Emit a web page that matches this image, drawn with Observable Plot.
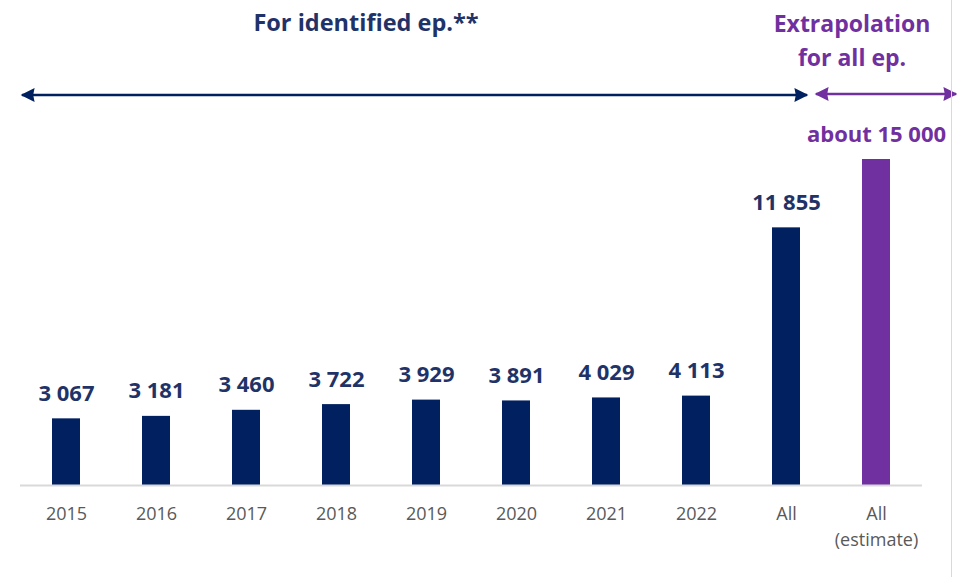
<!DOCTYPE html>
<html>
<head>
<meta charset="utf-8">
<script src="https://cdn.jsdelivr.net/npm/d3@7"></script>
<script src="https://cdn.jsdelivr.net/npm/@observablehq/plot@0.6"></script>
<style>
  html, body { margin: 0; padding: 0; background: #fff; }
  #chart { position: relative; width: 957px; height: 577px; overflow: hidden; }
  #chart svg { display: block; }
</style>
</head>
<body>
<div id="chart"></div>
<script>
// ---- data ----
const categories = ["2015", "2016", "2017", "2018", "2019", "2020", "2021", "2022", "All", "All (estimate)"];
const values = [3067, 3181, 3460, 3722, 3929, 3891, 4029, 4113, 11855, 15000];
const isEstimate = [false, false, false, false, false, false, false, false, false, true];
const labelPrefix = ["", "", "", "", "", "", "", "", "", "about "];
const tickLabels = ["2015", "2016", "2017", "2018", "2019", "2020", "2021", "2022", "All", "All\n(estimate)"];
const headerIdentified = "For identified ep.**";
const headerExtrapolation = ["Extrapolation", "for all ep."];

const NAVY = "#002060";
const NAVY_TEXT = "#1F3368";
const PURPLE = "#7030A0";

const rows = categories.map((c, i) => ({
  category: c,
  value: values[i],
  estimate: isEstimate[i],
  label: labelPrefix[i] + d3.format(",")(values[i]).replace(/,/g, "\u00A0")
}));

const fmtTick = d => tickLabels[categories.indexOf(d)];

const plot = Plot.plot({
  width: 957,
  height: 577,
  marginTop: 159,
  marginBottom: 92,
  marginLeft: 20,
  marginRight: 35,
  style: { fontFamily: "'Open Sans', sans-serif", background: "transparent", overflow: "visible" },
  x: { type: "band", domain: categories, paddingInner: 0.69, paddingOuter: 0.345, label: null },
  y: { domain: [0, 15000], axis: null },
  marks: [
    Plot.barY(rows, { x: "category", y: "value", fill: d => d.estimate ? PURPLE : NAVY }),
    Plot.ruleY([0], { stroke: "#D9D9D9", strokeWidth: 2 }),
    Plot.text(rows, {
      x: "category", y: "value", text: "label", dy: -25,
      fill: d => d.estimate ? PURPLE : NAVY_TEXT,
      fontSize: 22, fontWeight: "bold"
    }),
    Plot.axisX({
      tickSize: 0, tickPadding: 16, fontSize: 18, color: "#595959",
      tickFormat: fmtTick, lineHeight: 1.45, label: null
    })
  ]
});

document.getElementById("chart").appendChild(plot);

// ---- annotation layer (headers and range arrows), placed from the x scale ----
const xs = plot.scale("x");
const bw = xs.bandwidth, step = xs.step;
const cx = c => xs.apply(c) + bw / 2;
const svg = d3.select(plot);
const W = 957;

const defs = svg.append("defs");
function marker(id, color) {
  defs.append("marker").attr("id", id)
    .attr("viewBox", "0 0 10 10").attr("refX", 9).attr("refY", 5)
    .attr("markerUnits", "userSpaceOnUse")
    .attr("markerWidth", 15).attr("markerHeight", 14)
    .attr("orient", "auto-start-reverse")
    .append("path").attr("d", "M0,0 L10,5 L0,10 L1,5 Z").attr("fill", color);
}
marker("arrNavy", NAVY);
marker("arrPurple", PURPLE);

const arrowY = 95;
const xRange = Array.isArray(xs.range) ? xs.range : [20, 922];
const navyLeft = xRange[0] + 2;
const navyRight = cx("All") + 21;
const purpleLeft = cx("All") + 30;
const purpleRight = W - 1;

svg.append("line")
  .attr("x1", navyLeft).attr("x2", navyRight).attr("y1", arrowY).attr("y2", arrowY)
  .attr("stroke", NAVY).attr("stroke-width", 2.5)
  .attr("marker-start", "url(#arrNavy)").attr("marker-end", "url(#arrNavy)");
svg.append("line")
  .attr("x1", purpleLeft).attr("x2", purpleRight).attr("y1", arrowY - 1).attr("y2", arrowY - 1)
  .attr("stroke", PURPLE).attr("stroke-width", 2.5)
  .attr("marker-start", "url(#arrPurple)").attr("marker-end", "url(#arrPurple)");

svg.append("text")
  .attr("x", cx("2018") + step / 3).attr("y", 31)
  .attr("text-anchor", "middle").attr("fill", NAVY_TEXT)
  .attr("font-size", 23.5).attr("font-weight", "bold")
  .text(headerIdentified);

headerExtrapolation.forEach((t, i) => {
  svg.append("text")
    .attr("x", cx("All (estimate)") - 24).attr("y", 32 + i * 34)
    .attr("text-anchor", "middle").attr("fill", PURPLE)
    .attr("font-size", 23).attr("font-weight", "bold")
    .text(t);
});

// right border line
svg.append("line")
  .attr("x1", W - 5.5).attr("x2", W - 5.5).attr("y1", 0).attr("y2", 577)
  .attr("stroke", "#D9D9D9").attr("stroke-width", 1);
</script>
</body>
</html>
